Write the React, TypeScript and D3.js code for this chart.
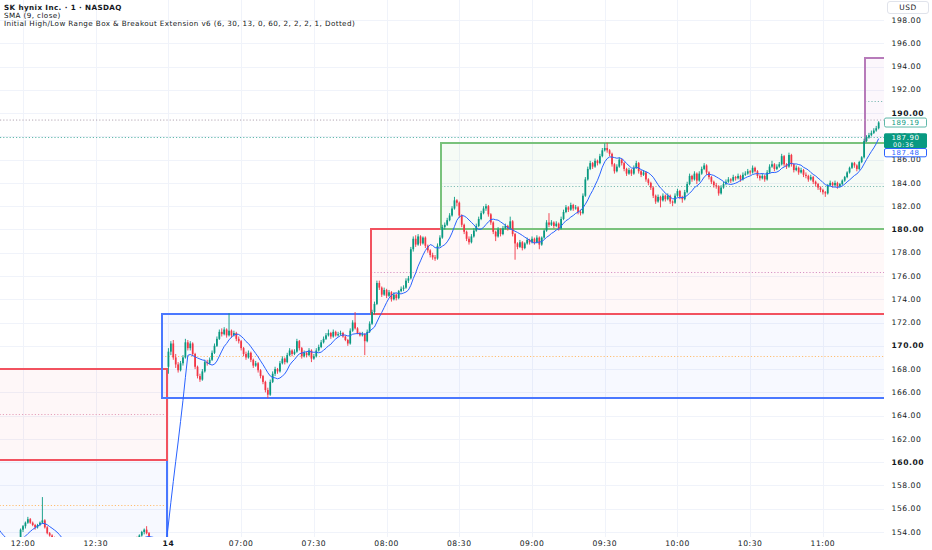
import React from 'react';
import * as d3 from 'd3';

// 1-minute bars, [open, high, low, close]
// previous session, 11:40 – 12:59
const prevDayBars: number[][] = [
  [155.9,156.1,155.6,155.8],[155.8,155.9,155.5,155.7],[155.7,155.8,155.4,155.6],[155.6,155.7,155.2,155.3],[155.3,155.4,154.9,155.0],
  [155.0,155.1,154.5,154.6],[154.6,154.7,154.1,154.2],[154.2,154.3,153.4,153.5],[153.5,153.6,153.2,153.4],[153.4,153.5,153.1,153.3],
  [153.3,153.4,153.0,153.2],[153.2,153.3,152.9,153.1],[153.1,153.2,152.8,153.0],[153.0,153.3,152.9,153.2],[153.2,153.3,153.0,153.1],
  [153.1,153.2,152.9,153.0],[153.0,153.3,152.9,153.2],[153.2,153.4,153.1,153.3],[153.3,153.5,153.2,153.5],[153.5,154.3,153.4,154.2],
  [154.2,154.6,154.0,154.5],[154.5,154.9,154.3,154.8],[154.8,155.3,154.7,155.1],[155.1,155.2,154.7,154.8],[154.8,154.9,154.5,154.6],
  [154.6,154.7,154.2,154.4],[154.4,154.7,154.3,154.6],[154.6,154.9,154.5,154.8],[154.8,157.0,154.7,155.0],[155.0,155.1,154.3,154.4],
  [154.4,154.5,153.8,153.9],[153.9,154.0,153.6,153.7],[153.7,153.8,153.4,153.5],[153.5,153.6,153.1,153.2],[153.2,153.3,152.8,152.9],
  [152.9,153.0,152.5,152.6],[152.6,152.8,152.3,152.5],[152.5,152.7,152.2,152.4],[152.4,152.6,152.1,152.2],[152.2,152.5,152.0,152.4],
  [152.4,152.7,152.3,152.6],[152.6,152.9,152.5,152.8],[152.8,153.0,152.6,152.7],[152.7,152.9,152.5,152.6],[152.6,152.8,152.4,152.5],
  [152.5,152.7,152.2,152.3],[152.3,152.5,152.1,152.4],[152.4,152.7,152.3,152.6],[152.6,152.9,152.5,152.8],[152.8,153.1,152.7,153.0],
  [153.0,153.2,152.8,152.9],[152.9,153.0,152.6,152.7],[152.7,152.8,152.4,152.5],[152.5,152.7,152.3,152.6],[152.6,152.9,152.5,152.8],
  [152.8,153.0,152.6,152.7],[152.7,152.9,152.5,152.8],[152.8,153.1,152.7,153.0],[153.0,153.2,152.8,152.9],[152.9,153.1,152.7,153.0],
  [153.0,153.3,152.9,153.2],[153.2,153.4,153.0,153.1],[153.1,153.3,152.9,153.2],[153.2,153.5,153.1,153.3],[153.3,153.5,153.1,153.2],
  [153.2,153.4,153.0,153.3],[153.3,153.5,153.2,153.4],[153.4,153.6,153.2,153.3],[153.3,153.8,153.2,153.7],[153.7,154.1,153.6,154.0],
  [154.0,154.3,153.8,154.2],[154.2,154.5,153.8,153.9],[153.9,154.0,153.3,153.4],[153.4,153.5,152.9,153.0],[153.0,153.1,152.7,152.8],
  [152.8,153.0,152.6,152.9],[152.9,153.0,152.5,152.6],[152.6,152.8,152.5,152.7],[152.7,152.8,152.4,152.5],[152.5,152.9,152.4,152.8],
];

// the 14th, 06:30 – 11:23
const todayBars: number[][] = [
  [168.2,169.8,167.6,169.5],[169.5,170.4,169.2,170.2],[170.2,170.5,168.8,169.0],[169.0,169.3,168.1,168.4],[168.4,168.6,167.7,167.9],
  [167.9,168.7,167.8,168.5],[168.5,169.2,168.3,169.0],[169.0,170.6,168.9,170.3],[170.3,170.5,169.6,169.8],[169.8,170.4,169.6,170.2],
  [170.2,170.3,169.1,169.3],[169.3,169.4,168.0,168.2],[168.2,168.3,167.2,167.4],[167.4,167.6,166.9,167.1],[167.1,168.0,167.0,167.8],
  [167.8,168.8,167.7,168.6],[168.6,168.8,168.3,168.5],[168.5,169.0,168.4,168.8],[168.8,169.6,168.7,169.4],[169.4,170.2,169.3,170.0],
  [170.0,170.8,169.9,170.6],[170.6,171.4,170.5,171.2],[171.2,171.5,170.8,171.0],[171.0,171.6,170.9,171.4],[171.4,171.5,170.7,170.9],
  [170.9,172.8,170.8,171.3],[171.3,171.4,170.7,170.9],[170.9,171.3,170.8,171.1],[171.1,171.2,170.4,170.6],[170.6,170.8,170.2,170.4],
  [170.4,170.5,169.6,169.8],[169.8,169.9,169.1,169.3],[169.3,169.5,168.8,169.0],[169.0,169.6,168.9,169.4],[169.4,169.5,168.6,168.8],
  [168.8,168.9,168.1,168.3],[168.3,168.7,168.2,168.5],[168.5,168.6,167.7,167.9],[167.9,168.0,167.2,167.4],[167.4,167.5,166.7,166.9],
  [166.9,167.0,166.0,166.2],[166.2,166.4,165.5,165.8],[165.8,167.1,165.7,166.9],[166.9,167.8,166.8,167.6],[167.6,168.2,167.4,168.0],
  [168.0,168.1,167.6,167.8],[167.8,168.7,167.7,168.5],[168.5,169.1,168.4,168.9],[168.9,169.0,168.4,168.6],[168.6,169.4,168.5,169.2],
  [169.2,169.8,169.1,169.6],[169.6,169.7,169.1,169.3],[169.3,169.7,169.2,169.5],[169.5,170.6,169.4,170.4],[170.4,170.5,169.6,169.8],
  [169.8,169.9,168.9,169.1],[169.1,169.6,169.0,169.4],[169.4,169.5,169.0,169.2],[169.2,169.8,169.1,169.6],[169.6,169.7,168.6,168.9],
  [168.9,169.3,168.8,169.1],[169.1,169.8,169.0,169.6],[169.6,170.1,169.5,169.9],[169.9,170.5,169.8,170.3],[170.3,170.8,170.2,170.6],
  [170.6,171.1,170.5,170.9],[170.9,171.4,170.8,171.1],[171.1,171.2,170.6,170.8],[170.8,171.4,170.7,171.2],[171.2,171.3,170.8,170.9],
  [170.9,171.2,170.8,171.0],[171.0,171.3,170.9,171.1],[171.1,171.2,170.7,170.8],[170.8,170.9,170.4,170.5],[170.5,170.6,170.0,170.2],
  [170.2,171.5,170.1,171.3],[171.3,172.2,171.2,172.0],[172.0,172.9,171.4,171.5],[171.5,171.6,171.0,171.1],[171.1,171.2,170.8,170.9],
  [170.9,171.2,170.8,171.0],[171.0,171.1,169.2,170.4],[170.4,171.4,170.3,171.2],[171.2,172.1,171.1,171.9],[171.9,173.1,171.8,172.9],
  [172.9,173.8,172.7,173.6],[173.6,175.6,173.5,175.4],[175.4,175.6,174.8,175.0],[175.0,175.1,174.2,174.4],[174.4,175.0,174.3,174.8],
  [174.8,174.9,174.1,174.3],[174.3,174.8,174.2,174.6],[174.6,174.7,173.8,174.0],[174.0,174.6,173.9,174.4],[174.4,174.5,173.9,174.1],
  [174.1,174.8,174.0,174.7],[174.7,175.1,174.6,174.9],[174.9,175.2,174.7,175.0],[175.0,175.8,174.9,175.6],[175.6,176.0,175.4,175.8],
  [175.8,178.5,175.7,178.3],[178.3,179.4,178.1,179.2],[179.2,179.5,178.5,178.7],[178.7,179.6,178.6,179.4],[179.4,179.5,178.6,178.8],
  [178.8,179.4,178.7,179.3],[179.3,179.4,178.4,178.6],[178.6,178.7,178.0,178.2],[178.2,178.3,177.6,177.8],[177.8,178.0,177.4,177.6],
  [177.6,177.8,177.3,177.5],[177.5,178.8,177.4,178.6],[178.6,179.5,178.5,179.3],[179.3,180.4,179.2,180.2],[180.2,180.6,180.0,180.4],
  [180.4,181.0,180.3,180.8],[180.8,181.4,180.7,181.2],[181.2,182.0,181.1,181.8],[181.8,182.8,181.7,182.5],[182.5,182.6,182.0,182.3],
  [182.3,182.4,181.0,181.2],[181.2,181.3,180.2,180.4],[180.4,180.5,179.6,179.8],[179.8,179.9,179.0,179.2],[179.2,179.4,178.7,178.9],
  [178.9,179.6,178.8,179.4],[179.4,180.1,179.3,179.9],[179.9,180.5,179.8,180.3],[180.3,181.1,180.2,180.9],[180.9,181.6,180.8,181.4],
  [181.4,182.0,181.3,181.8],[181.8,182.2,181.6,182.0],[182.0,182.1,181.1,181.3],[181.3,181.4,180.4,180.6],[180.6,180.7,179.6,179.8],
  [179.8,179.9,179.0,179.4],[179.4,180.2,179.3,180.0],[180.0,180.1,179.4,179.6],[179.6,180.3,179.5,180.1],[180.1,180.5,180.0,180.3],
  [180.3,180.4,179.9,180.1],[180.1,181.1,180.0,180.7],[180.7,180.8,179.4,179.6],[179.6,179.7,177.4,178.8],[178.8,178.9,178.3,178.5],
  [178.5,179.1,178.4,178.9],[178.9,179.0,178.2,178.4],[178.4,178.9,178.3,178.8],[178.8,179.3,178.7,179.1],[179.1,179.2,178.7,178.9],
  [178.9,179.4,178.8,179.2],[179.2,179.3,178.7,178.9],[178.9,179.5,178.8,179.3],[179.3,179.4,178.3,178.7],[178.7,179.4,178.6,179.3],
  [179.3,180.0,179.2,179.9],[179.9,180.8,179.8,180.6],[180.6,181.4,180.2,180.4],[180.4,180.8,180.3,180.6],[180.6,180.7,180.1,180.3],
  [180.3,180.7,180.2,180.5],[180.5,180.6,179.9,180.1],[180.1,181.1,180.0,180.9],[180.9,181.7,180.8,181.5],[181.5,182.1,181.4,181.9],
  [181.9,182.0,181.5,181.7],[181.7,182.3,181.6,182.1],[182.1,182.2,181.6,181.8],[181.8,182.1,181.7,181.9],[181.9,182.0,181.3,181.5],
  [181.5,181.7,181.2,181.4],[181.4,183.1,181.3,182.9],[182.9,184.5,182.8,184.3],[184.3,185.4,184.2,185.2],[185.2,185.9,185.1,185.7],
  [185.7,185.8,185.2,185.4],[185.4,186.1,185.3,185.9],[185.9,186.0,185.5,185.7],[185.7,186.5,185.6,186.3],[186.3,187.0,186.2,186.8],
  [186.8,187.4,186.7,187.0],[187.0,187.45,186.6,186.8],[186.8,186.9,186.3,186.5],[186.5,186.6,185.4,185.6],[185.6,185.7,184.8,185.0],
  [185.0,185.6,184.9,185.4],[185.4,186.2,185.3,186.0],[186.0,186.1,185.5,185.7],[185.7,185.8,185.0,185.2],[185.2,185.3,184.6,184.8],
  [184.8,185.3,184.7,185.1],[185.1,185.2,184.6,184.8],[184.8,185.5,184.7,185.3],[185.3,185.9,185.2,185.7],[185.7,185.8,184.8,185.0],
  [185.0,185.1,184.5,184.7],[184.7,185.1,184.6,184.9],[184.9,185.0,184.1,184.3],[184.3,184.4,183.8,184.0],[184.0,184.1,183.4,183.6],
  [183.6,183.7,182.7,182.9],[182.9,183.0,182.2,182.4],[182.4,183.0,182.3,182.8],[182.8,182.9,181.9,182.5],[182.5,183.1,182.4,182.9],
  [182.9,183.0,182.4,182.6],[182.6,183.1,182.5,182.9],[182.9,183.0,182.2,182.4],[182.4,182.5,182.0,182.3],[182.3,183.1,182.2,182.9],
  [182.9,183.5,182.8,183.3],[183.3,183.4,182.6,182.8],[182.8,182.9,182.3,182.6],[182.6,183.4,182.5,183.2],[183.2,184.1,183.1,183.9],
  [183.9,184.8,183.8,184.6],[184.6,184.7,184.1,184.3],[184.3,185.0,184.2,184.8],[184.8,184.9,183.9,184.2],[184.2,185.0,184.1,184.8],
  [184.8,185.4,184.7,185.2],[185.2,185.7,185.1,185.5],[185.5,185.6,184.7,184.9],[184.9,185.0,184.3,184.5],[184.5,184.6,183.9,184.1],
  [184.1,184.2,183.6,183.8],[183.8,184.0,183.5,183.7],[183.7,183.8,182.9,183.1],[183.1,183.8,183.0,183.6],[183.6,184.1,183.5,183.9],
  [183.9,184.3,183.8,184.1],[184.1,184.5,184.0,184.3],[184.3,184.4,184.0,184.2],[184.2,184.7,184.1,184.5],[184.5,184.6,184.2,184.4],
  [184.4,184.8,184.3,184.6],[184.6,184.7,184.1,184.3],[184.3,184.9,184.2,184.7],[184.7,185.0,184.6,184.8],[184.8,185.2,184.7,185.0],
  [185.0,185.1,184.7,184.9],[184.9,185.5,184.8,185.3],[185.3,185.4,184.9,185.0],[185.0,185.1,184.4,184.6],[184.6,184.7,184.2,184.4],
  [184.4,184.8,184.3,184.6],[184.6,184.7,184.1,184.3],[184.3,185.1,184.2,184.9],[184.9,185.6,184.8,185.4],[185.4,185.9,185.3,185.6],
  [185.6,185.7,185.0,185.2],[185.2,185.6,185.1,185.4],[185.4,185.8,185.3,185.6],[185.6,186.5,185.5,186.3],[186.3,186.4,185.4,185.6],
  [185.6,185.7,185.2,185.4],[185.4,186.6,185.3,186.4],[186.4,186.5,185.4,185.6],[185.6,185.7,184.9,185.1],[185.1,185.5,185.0,185.3],
  [185.3,185.4,184.7,184.9],[184.9,185.3,184.8,185.1],[185.1,185.2,184.5,184.7],[184.7,184.9,184.4,184.6],[184.6,184.7,184.1,184.3],
  [184.3,184.7,184.2,184.5],[184.5,184.6,183.9,184.1],[184.1,184.2,183.7,183.9],[183.9,184.0,183.4,183.6],[183.6,183.7,183.2,183.4],
  [183.4,183.5,183.0,183.2],[183.2,183.3,182.8,183.1],[183.1,183.9,183.0,183.8],[183.8,184.2,183.7,184.0],[184.0,184.1,183.6,183.8],
  [183.8,184.2,183.7,184.0],[184.0,184.1,183.5,183.7],[183.7,184.0,183.6,183.9],[183.9,184.3,183.8,184.2],[184.2,184.6,184.1,184.5],
  [184.5,185.0,184.4,184.9],[184.9,185.4,184.8,185.3],[185.3,185.8,185.2,185.7],[185.7,185.8,185.3,185.5],[185.5,185.6,185.0,185.2],
  [185.2,185.9,185.1,185.8],[185.8,186.3,185.7,186.2],[186.2,187.8,186.1,187.6],[187.6,188.1,187.5,187.9],[187.9,188.3,187.8,188.1],
  [188.1,188.5,188.0,188.3],[188.3,188.7,188.2,188.5],[188.5,188.9,188.4,188.7],[188.7,189.3,188.6,189.19],
];

const priceTicks = [154, 156, 158, 160, 162, 164, 166, 168, 170, 172, 174, 176, 178, 180, 182, 184, 186, 188, 190, 192, 194, 196, 198];
const boldTicks = [160, 170, 180, 190];

// bar index (0 = 11:40 previous day) -> label
const timeTicks = [
  { bar: 20, label: '12:00' }, { bar: 50, label: '12:30' }, { bar: 80, label: '14', bold: true },
  { bar: 110, label: '07:00' }, { bar: 140, label: '07:30' }, { bar: 170, label: '08:00' },
  { bar: 200, label: '08:30' }, { bar: 230, label: '09:00' }, { bar: 260, label: '09:30' },
  { bar: 290, label: '10:00' }, { bar: 320, label: '10:30' }, { bar: 350, label: '11:00' },
];

// range boxes: from/to in bar index, top/bottom in price (drawn in this order)
const boxes = [
  { from: -40, to: 79.3, top: 160.2, bottom: 152.4, stroke: '#4a78ff', fill: 'rgba(41,98,255,0.04)', mid: '#ffbf73' },
  { from: -40, to: 79.3, top: 168.0, bottom: 160.2, stroke: '#f2525f', fill: 'rgba(242,54,69,0.04)', mid: '#e6a3bd' },
  { from: 77.5, to: 420, top: 172.75, bottom: 165.5, stroke: '#4a78ff', fill: 'rgba(41,98,255,0.04)', mid: '#ffbf73' },
  { from: 163.4, to: 420, top: 180.0, bottom: 172.75, stroke: '#f2525f', fill: 'rgba(242,54,69,0.035)', mid: '#d895c6' },
  { from: 367.4, to: 420, top: 194.7, bottom: 187.4, stroke: '#b77bba', fill: 'rgba(156,39,176,0.035)', mid: '#7fbcb5' },
  { from: 192.4, to: 420, top: 187.4, bottom: 180.0, stroke: '#79c27c', fill: 'rgba(76,175,80,0.05)', mid: '#7fbcb5' },
];

const lastPrice = 187.9;
const highPrice = 189.19;
const highLinePrice = 189.4;
const smaValue = 187.48;
const countdown = '00:36';

const headerLines = [
  'SK hynix Inc. · 1 · NASDAQ',
  'SMA (9, close)',
  'Initial High/Low Range Box & Breakout Extension v6 (6, 30, 13, 0, 60, 2, 2, 2, 1, Dotted)',
];

const UP = '#089981';
const DOWN = '#f23645';
const FONT = '"DejaVu Sans", Verdana, sans-serif';

export default function App() {
  const width = 932, height = 550;
  const plotRight = 884, plotBottom = 537;
  const bars = [...prevDayBars, ...todayBars];

  const x = d3.scaleLinear().domain([20, 350]).range([23, 822.9]);
  const y = d3.scaleLinear().domain([154, 198]).range([532, 20]);
  const step = x(1) - x(0);
  const bodyW = step * 0.72;
  const fmt = d3.format('.2f');

  const closes = bars.map(b => b[3]);
  const sma = closes.map((_, i) => (i < 8 ? null : d3.mean(closes.slice(i - 8, i + 1)) as number));
  const smaLine = d3.line<number | null>()
    .defined(d => d != null)
    .x((_, i) => x(i))
    .y(d => y(d as number));

  const tagX = plotRight;
  const tagW = 42;
  const axisFont = { fontSize: 7.6, letterSpacing: 0.55 };

  return (
    <div style={{ position: 'absolute', left: 0, top: 0 }}>
      <svg width={width} height={height} style={{ display: 'block', background: '#fff', fontFamily: FONT }}>
        <defs>
          <clipPath id="plot">
            <rect x={0} y={0} width={plotRight} height={plotBottom} />
          </clipPath>
        </defs>

        {/* grid */}
        <g stroke="#f0f3fa" strokeWidth={1}>
          {priceTicks.map(p => (
            <line key={p} x1={0} x2={plotRight} y1={Math.round(y(p)) + 0.5} y2={Math.round(y(p)) + 0.5} />
          ))}
          {timeTicks.map(t => (
            <line key={t.label} x1={Math.round(x(t.bar)) + 0.5} x2={Math.round(x(t.bar)) + 0.5} y1={0} y2={plotBottom} />
          ))}
        </g>

        <g clipPath="url(#plot)">
          {/* range boxes */}
          {boxes.map((b, i) => {
            const x0 = Math.round(x(b.from)), x1 = Math.round(x(b.to));
            const y0 = Math.round(y(b.top)), y1 = Math.round(y(b.bottom));
            const ym = Math.round(y((b.top + b.bottom) / 2)) + 0.5;
            return (
              <g key={i}>
                <rect x={x0} y={y0} width={x1 - x0} height={y1 - y0} fill={b.fill} />
                <line x1={x0} x2={x1} y1={ym} y2={ym} stroke={b.mid} strokeWidth={1} strokeDasharray="1.2 2" />
              </g>
            );
          })}
          {boxes.map((b, i) => {
            const x0 = Math.round(x(b.from)), x1 = Math.round(x(b.to));
            const y0 = Math.round(y(b.top)), y1 = Math.round(y(b.bottom));
            return (
              <rect key={i} x={x0} y={y0} width={x1 - x0} height={y1 - y0} fill="none"
                stroke={b.stroke} strokeWidth={2} shapeRendering="crispEdges" />
            );
          })}

          {/* price lines */}
          <line x1={0} x2={plotRight} y1={y(highLinePrice)} y2={y(highLinePrice)} stroke="#b3a6b3" strokeWidth={1} strokeDasharray="1.2 2" />
          <line x1={0} x2={plotRight} y1={y(lastPrice)} y2={y(lastPrice)} stroke="#5fb8aa" strokeWidth={1} strokeDasharray="1.2 2" />

          {/* candles */}
          {bars.map((b, i) => {
            const [o, h, l, c] = b;
            const color = c >= o ? UP : DOWN;
            const cx = x(i);
            const top = y(Math.max(o, c));
            const bh = Math.max(0.8, Math.abs(y(o) - y(c)));
            return (
              <g key={i}>
                <line x1={cx} x2={cx} y1={y(h)} y2={y(l)} stroke={color} strokeWidth={0.9} />
                <rect x={cx - bodyW / 2} y={top} width={bodyW} height={bh} fill={color} />
              </g>
            );
          })}

          {/* SMA 9 */}
          <path d={smaLine(sma) || ''} fill="none" stroke="#2962ff" strokeWidth={1} />
        </g>

        {/* header */}
        <g fill="#131722" fontSize={7.2} letterSpacing={0.4}>
          {headerLines.map((t, i) => (
            <text key={i} x={4} y={10 + i * 8.1} fontWeight={i === 0 ? 'bold' : 'normal'}>{t}</text>
          ))}
        </g>

        {/* price axis */}
        <g fill="#131722" {...axisFont}>
          {priceTicks.map(p => (
            <text key={p} x={891.5} y={y(p)} dy="0.35em" fontWeight={boldTicks.includes(p) ? 'bold' : 'normal'}>
              {fmt(p)}
            </text>
          ))}
        </g>

        {/* USD badge */}
        <rect x={887.5} y={1.5} width={41} height={12} rx={2.5} fill="#fff" stroke="#e0e3eb" />
        <text x={908} y={7.8} dy="0.35em" textAnchor="middle" fontSize={7.4} letterSpacing={0.5} fill="#131722">USD</text>

        {/* price tags */}
        <g fontSize={7} letterSpacing={0.6}>
          <rect x={tagX + 0.5} y={y(highPrice) - 4.5} width={tagW} height={9} rx={1.5} fill="#fff" stroke="#5fb8aa" strokeWidth={1} />
          <text x={891.5} y={y(highPrice)} dy="0.35em" fill={UP}>{fmt(highPrice)}</text>

          <rect x={tagX} y={y(lastPrice) - 4.2} width={tagW + 1} height={14.6} rx={1.5} fill={UP} />
          <text x={891.5} y={y(lastPrice) - 0.3} dy="0.35em" fill="#fff">{fmt(lastPrice)}</text>
          <text x={893} y={y(lastPrice) + 7.6} dy="0.35em" fill="#fff" fontSize={6.3}>{countdown}</text>

          <rect x={tagX + 0.5} y={y(lastPrice) + 11} width={tagW} height={8.3} rx={1.5} fill="#fff" stroke="#2962ff" strokeWidth={1} />
          <text x={891.5} y={y(lastPrice) + 15} dy="0.35em" fill="#2962ff">{fmt(smaValue)}</text>
        </g>

        {/* time axis */}
        <g fill="#131722" textAnchor="middle" {...axisFont}>
          {timeTicks.map(t => (
            <text key={t.label} x={x(t.bar)} y={546} fontWeight={t.bold ? 'bold' : 'normal'}>{t.label}</text>
          ))}
        </g>
      </svg>
    </div>
  );
}
